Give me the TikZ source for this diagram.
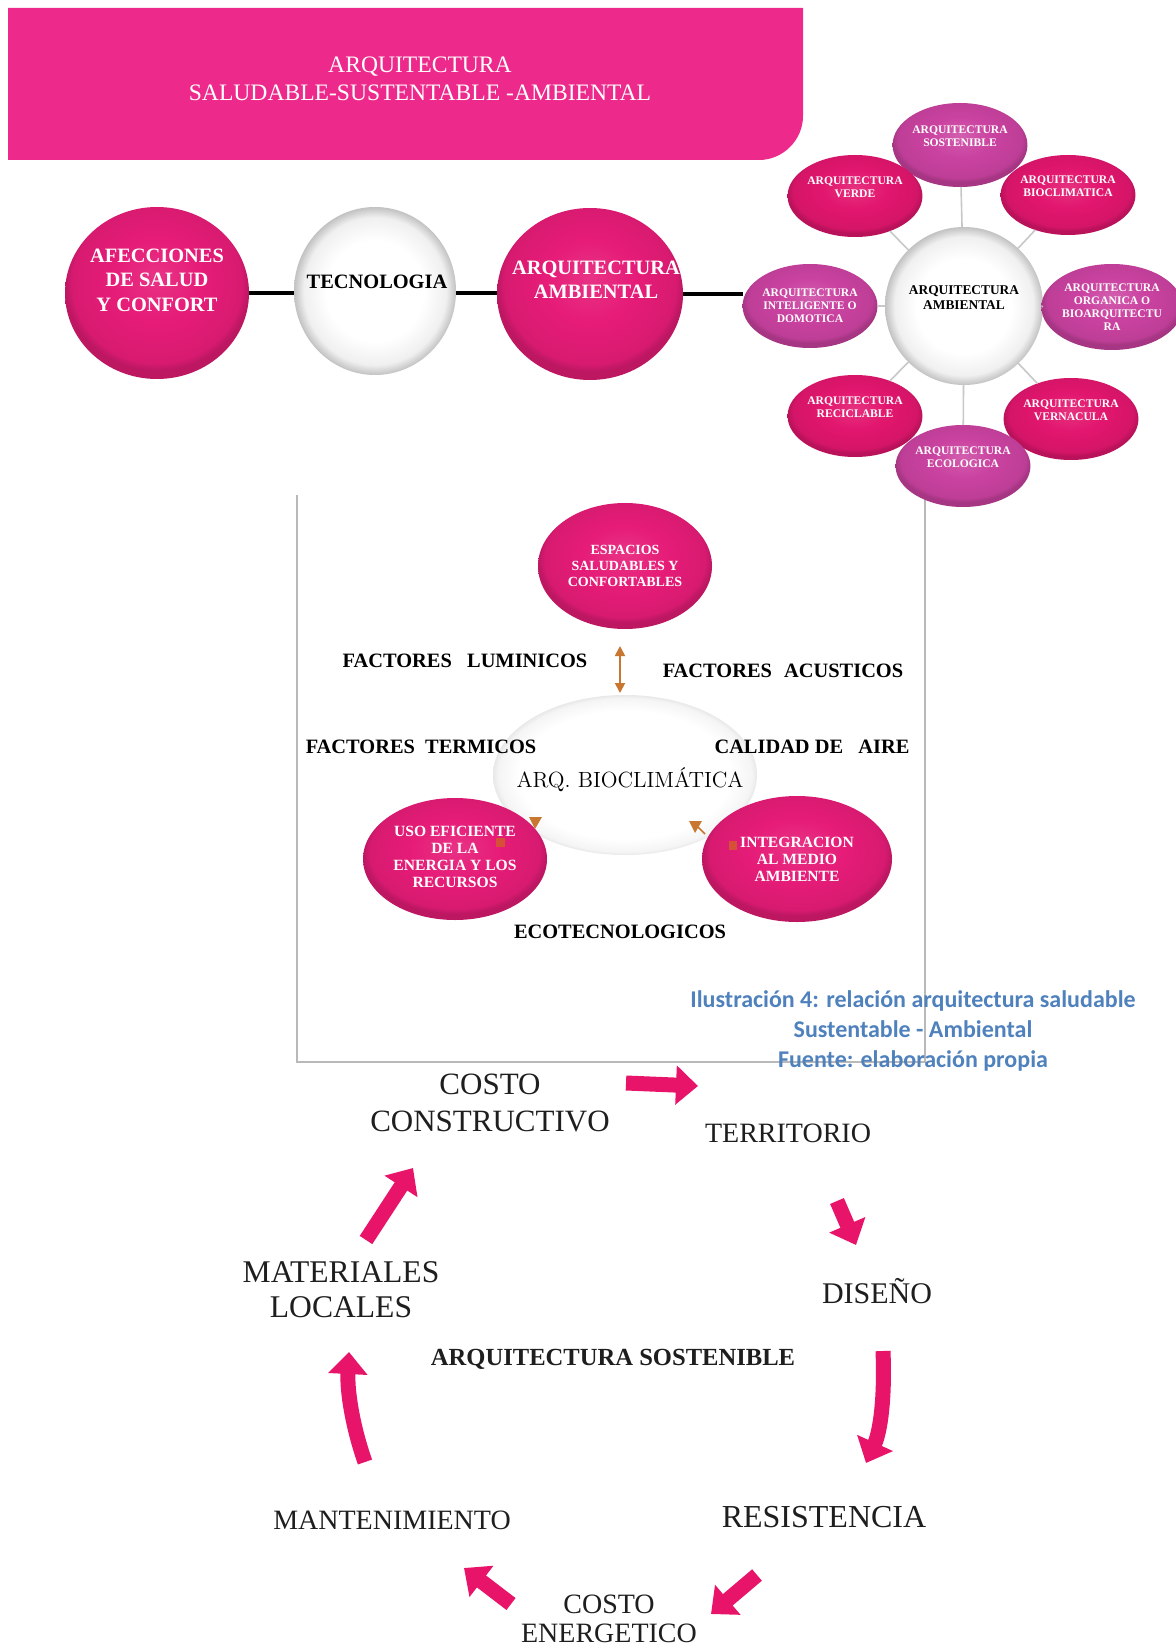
\documentclass[tikz,border=0pt]{standalone}
\usepackage{fontspec}
\usepackage{graphicx}
\usetikzlibrary{shapes.geometric,arrows.meta}
\newfontfamily\tms{Liberation Serif}
\newfontfamily\captfont{Carlito}
\definecolor{bannerpink}{RGB}{237,42,140}
\definecolor{hotpink}{RGB}{230,28,120}
\definecolor{rosepink}{RGB}{226,22,110}
\definecolor{orchid}{RGB}{202,66,160}
\definecolor{arrowpink}{RGB}{232,20,105}
\definecolor{captblue}{RGB}{79,129,189}
\definecolor{boxgray}{RGB}{185,185,185}
\definecolor{linkgray}{RGB}{200,200,200}
\definecolor{tanline}{RGB}{200,118,48}
\definecolor{inkgray}{RGB}{30,30,30}
% glossy fills
\pgfdeclareradialshading{pinkshade}{\pgfpoint{0bp}{5bp}}{color(0bp)=(hotpink!90!white); color(12bp)=(hotpink); color(23bp)=(hotpink!94!black); color(25bp)=(hotpink!82!black); color(50bp)=(hotpink!82!black)}
\pgfdeclareradialshading{roseshade}{\pgfpoint{0bp}{5bp}}{color(0bp)=(rosepink!88!white); color(12bp)=(rosepink); color(23bp)=(rosepink!94!black); color(25bp)=(rosepink!82!black); color(50bp)=(rosepink!82!black)}
\pgfdeclareradialshading{orchidshade}{\pgfpoint{0bp}{6bp}}{color(0bp)=(orchid!85!white); color(12bp)=(orchid); color(23bp)=(orchid!94!black); color(25bp)=(orchid!82!black); color(50bp)=(orchid!82!black)}
\pgfdeclareradialshading{pearlshade}{\pgfpoint{0bp}{0bp}}{color(0bp)=(white); color(15bp)=(white); color(22bp)=(black!6); color(25bp)=(black!24); color(50bp)=(black!24)}
\pgfdeclareradialshading{mistshade}{\pgfpoint{0bp}{0bp}}{color(0bp)=(white); color(20bp)=(white); color(24bp)=(black!4); color(25bp)=(black!9); color(50bp)=(white)}
\begin{document}
\begin{tikzpicture}[x=0.5pt,y=-0.5pt,
  ell/.style 2 args={ellipse, minimum width=#1pt, minimum height=#2pt, inner sep=0pt, outer sep=0pt},
  pinkball/.style={shade, shading=pinkshade},
  roseball/.style={shade, shading=roseshade},
  orchidball/.style={shade, shading=orchidshade},
  pearlball/.style={shade, shading=pearlshade},
  mistball/.style={shade, shading=mistshade},
  bannertext/.style={text=white, align=center, font=\tms\fontsize{11.8}{14}\selectfont},
  whitetext/.style={text=white, align=center, font=\tms\bfseries\fontsize{10.2}{12.2}\selectfont},
  blacktext/.style={text=black, align=center, font=\tms\bfseries\fontsize{10.2}{12.2}\selectfont},
  tinywhite/.style={text=white, align=center, font=\tms\bfseries\fontsize{5.8}{6.5}\selectfont},
  tinyblack/.style={text=black, align=center, font=\tms\bfseries\fontsize{6.7}{7.5}\selectfont},
  midwhite/.style={text=white, align=center, font=\tms\bfseries\fontsize{7.8}{8.5}\selectfont},
  factor/.style={text=black, font=\tms\bfseries\fontsize{10.2}{12}\selectfont},
  cycletext/.style 2 args={text=inkgray, align=center, font=\tms\fontsize{#1}{#2}\selectfont},
  capt/.style={text=captblue, align=center, font=\captfont\bfseries\fontsize{12}{15}\selectfont},
  blackline/.style={draw=black, line width=2.2pt},
  link/.style={draw=linkgray, line width=0.8pt},
  frame/.style={draw=boxgray, line width=0.8pt},
  tanarrow/.style={draw=tanline, line width=0.9pt, {Triangle[width=5pt,length=5pt]}-{Triangle[width=5pt,length=5pt]}},
  cyclearrow/.style={draw=arrowpink, line width=7.5pt, -{Triangle[width=19pt,length=11pt]}}
]
\useasboundingbox (0,0) rectangle (1176,1652);
\fill[white] (0,0) rectangle (1176,1652);

% title banner
\fill[bannerpink] (8,8) -- (803,8) -- (803,116) .. controls (803,140) and (783,160) .. (759,160) -- (8,160) -- cycle;
\node[bannertext] (title) at (420,79) {ARQUITECTURA\\SALUDABLE-SUSTENTABLE -AMBIENTAL};

% frame of the middle diagram
\draw[frame] (297,495) -- (297,1062) -- (925,1062) -- (925,495);

% top row
\node[pinkball, ell={92}{86}] (afe) at (157,293) {};
\node[whitetext] (afe-t) at (157,280) {AFECCIONES\\DE SALUD\\Y CONFORT};
\node[pearlball, ell={81}{84}] (tec) at (375,291) {};
\node[blacktext] (tec-t) at (377,282) {TECNOLOGIA};
\node[pinkball, ell={93}{86}] (amb) at (590,294) {};
\node[whitetext] (amb-t) at (596,280) {ARQUITECTURA\\AMBIENTAL};

% radial cluster
\node[pearlball, ell={79}{79}] (cen) at (964,306) {};
\node[tinyblack] (cen-t) at (964,298) {ARQUITECTURA\\AMBIENTAL};
\node[orchidball, ell={60}{42}, tinywhite] (sos) at (960,145) {ARQUITECTURA\\SOSTENIBLE\\[2pt]};
\node[roseball, ell={58}{41}, tinywhite] (ver) at (855,196) {ARQUITECTURA\\VERDE\\[2pt]};
\node[roseball, ell={60}{40}, tinywhite] (bio) at (1068,195) {ARQUITECTURA\\BIOCLIMATICA\\[2pt]};
\node[orchidball, ell={60}{42}, tinywhite] (int) at (810,306) {ARQUITECTURA\\INTELIGENTE O\\DOMOTICA};
\node[orchidball, ell={58}{43}, tinywhite] (org) at (1112,307) {ARQUITECTURA\\ORGANICA O\\BIOARQUITECTU\\RA};
\node[roseball, ell={57}{41}, tinywhite] (rec) at (855,416) {ARQUITECTURA\\RECICLABLE\\[2pt]};
\node[roseball, ell={58}{41}, tinywhite] (vrn) at (1071,419) {ARQUITECTURA\\VERNACULA\\[2pt]};
\node[orchidball, ell={60}{41}, tinywhite] (eco) at (963,466) {ARQUITECTURA\\ECOLOGICA\\[2pt]};
\foreach \n in {sos,ver,bio,int,org,rec,vrn,eco} \draw[link] (cen) -- (\n);

% black links of the top row
\draw[blackline] (afe) -- (afe -| tec.west);
\draw[blackline] (tec.east |- afe) -- (afe -| amb.west);
\draw[blackline] (amb) -- (amb -| int.west);

% middle diagram
\node[mistball, ell={132}{80}] (bioc) at (625,775) {};
\node[text=black, font=\fontsize{11}{12}\selectfont] (bioc-t) at (630,780) {ARQ. BIOCLIMÁTICA};
\node[pinkball, ell={87}{63}] (esp) at (625,566) {};
\node[midwhite, font=\tms\bfseries\fontsize{7}{7.8}\selectfont] (esp-t) at (625,566) {ESPACIOS\\SALUDABLES Y\\CONFORTABLES};
\node[pinkball, ell={92}{61}] (uso) at (455,859) {};
\node[midwhite] (uso-t) at (455,857) {USO EFICIENTE\\DE LA\\ENERGIA Y LOS\\RECURSOS};
\node[pinkball, ell={95}{63}] (ing) at (797,859) {};
\node[midwhite] (ing-t) at (797,859) {INTEGRACION\\AL MEDIO\\AMBIENTE};

\node[factor] (lum) at (465,661) {FACTORES\hspace{0.75em}LUMINICOS};
\node[factor] (acu) at (783,671) {FACTORES\hspace{0.6em}ACUSTICOS};
\node[factor] (ter) at (421,747) {FACTORES\hspace{0.5em}TERMICOS};
\node[factor] (air) at (812,747) {CALIDAD DE\hspace{0.75em}AIRE};
\node[factor] (ecot) at (620,932) {ECOTECNOLOGICOS};

\coordinate (da) at (620,646);
\coordinate (db) at (620,693);
\draw[tanarrow] (da) -- (db);
% small arrow marks on the ring
\fill[tanline] (529,817) -- (542,817) -- (535,829) -- cycle;
\draw[tanline, line width=0.8pt] (697,826) -- (705,834);
\fill[tanline] (689,821) -- (702,821) -- (695,833) -- cycle;
\fill[tanline!80!red, opacity=0.8] (496,838) rectangle (505,847);
\fill[tanline!80!red, opacity=0.8] (729,841) rectangle (737,850);

% caption
\node[capt] (cap) at (913,1031) {Ilustración 4: relación arquitectura saludable\\Sustentable - Ambiental\\Fuente: elaboración propia};

% sustainable architecture cycle
\node[cycletext={15.5}{18.5}] (cc) at (490,1103) {COSTO\\CONSTRUCTIVO};
\node[cycletext={14}{16}] (terr) at (788,1133) {TERRITORIO};
\node[cycletext={15}{16}] (dis) at (877,1291) {DISEÑO};
\node[text=inkgray, font=\tms\bfseries\fontsize{12.3}{14}\selectfont] (sost) at (613,1359) {ARQUITECTURA SOSTENIBLE};
\node[cycletext={16}{18}] (res) at (824,1517) {RESISTENCIA};
\node[cycletext={14}{14.5}] (ce) at (609,1619) {COSTO\\ENERGETICO};
\node[cycletext={14}{16}] (man) at (392,1520) {MANTENIMIENTO};
\node[cycletext={15.8}{17.5}] (mat) at (341,1290) {MATERIALES\\LOCALES};

\coordinate (a1s) at (626,1083); \coordinate (a1e) at (698,1086);
\coordinate (a2s) at (837,1201); \coordinate (a2e) at (856,1245);
\coordinate (a3s) at (883,1351); \coordinate (a3e) at (866,1463);
\coordinate (a4s) at (757,1575); \coordinate (a4e) at (711,1614);
\coordinate (a5s) at (511,1604); \coordinate (a5e) at (464,1568);
\coordinate (a6s) at (365,1462); \coordinate (a6e) at (349,1352);
\coordinate (a7s) at (366,1240); \coordinate (a7e) at (413,1168);
\draw[cyclearrow] (a1s) -- (a1e);
\draw[cyclearrow] (a2s) -- (a2e);
\draw[cyclearrow] (a3s) .. controls (885,1400) and (880,1432) .. (a3e);
\draw[cyclearrow] (a4s) -- (a4e);
\draw[cyclearrow] (a5s) -- (a5e);
\draw[cyclearrow] (a6s) .. controls (353,1428) and (347,1392) .. (a6e);
\draw[cyclearrow] (a7s) -- (a7e);
\end{tikzpicture}
\end{document}
